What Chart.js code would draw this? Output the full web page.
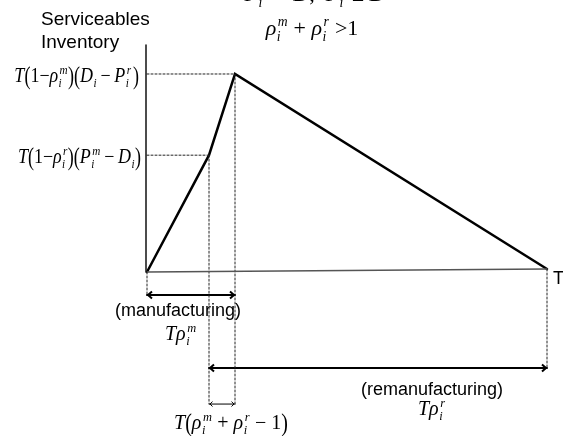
<!DOCTYPE html>
<html>
<head>
<meta charset="utf-8">
<script src="https://cdn.jsdelivr.net/npm/chart.js@4.4.1/dist/chart.umd.min.js"></script>
<style>
  html, body { margin: 0; padding: 0; background: #fff; }
</style>
</head>
<body>
<canvas id="inv" width="563" height="436"></canvas>
<script>
// time in units where T = 100, stock in units where the peak = 100
const inventoryTime  = [0, 15.5, 22, 100];
const inventoryLevel = [0, 59, 100, 1.5];
const baseTime  = [0, 100];
const baseLevel = [0, 1.5];
const axisTop = 114.6;

// where the dimension arrows sit (stock units, below zero)
const manufArrowAt = -11.6;
const remanArrowAt = -48.5;
const overlapArrowAt = -66.7;

const SERIF = '"Liberation Serif", "Times New Roman", serif';
const SANS = '"Liberation Sans", Arial, sans-serif';

// math text pieces: italic with optional sub/sup, roman, tall parens
function it(t, sub, sup) { return { t: t, i: true, sub: sub, sup: sup }; }
function rm(t) { return { t: t }; }
function par(t) { return { t: t, tall: true }; }

const labelPeak  = [it('T'), par('('), rm('1\u2212'), it('\u03c1', 'i', 'm'), par(')'), par('('), it('D', 'i'), rm('\u2009\u2212\u2009'), it('P', 'i', 'r'), rm('\u200a'), par(')')];
const labelKink  = [it('T'), par('('), rm('1\u2212'), it('\u03c1', 'i', 'r'), par(')'), par('('), it('P', 'i', 'm'), rm('\u2009\u2212\u2009'), it('D', 'i'), par(')')];
const labelCond1 = [it('P', 'i', 'm'), rm(' > '), it('D'), rm(',  '), it('P', 'i', 'r'), rm(' \u2265 '), it('D')];
const labelCond2 = [it('\u03c1', 'i', 'm'), rm(' + '), it('\u03c1', 'i', 'r'), rm(' >1')];
const labelManuf = [it('T\u03c1', 'i', 'm')];
const labelReman = [it('T\u03c1', 'i', 'r')];
const labelOverlap = [it('T'), par('('), it('\u03c1', 'i', 'm'), rm(' + '), it('\u03c1', 'i', 'r'), rm(' \u2212 1'), par(')')];

function mathRun(ctx, runs, size, x0, y0, draw) {
  let x = x0;
  for (const r of runs) {
    ctx.font = (r.i ? 'italic ' : '') + size + 'px ' + SERIF;
    const w = ctx.measureText(r.t).width;
    if (draw) {
      if (r.tall) {
        ctx.save();
        ctx.translate(x, y0 - 0.3 * size);
        ctx.scale(1, 1.3);
        ctx.fillText(r.t, 0, 0.3 * size);
        ctx.restore();
      } else {
        ctx.fillText(r.t, x, y0);
      }
    }
    x += w;
    if (r.sub || r.sup) {
      const s = size * 0.62;
      ctx.font = 'italic ' + s + 'px ' + SERIF;
      let sw = 0;
      if (r.sub) {
        sw = Math.max(sw, ctx.measureText(r.sub).width);
        if (draw) ctx.fillText(r.sub, x + 0.5, y0 + 0.26 * size);
      }
      if (r.sup) {
        sw = Math.max(sw, ctx.measureText(r.sup).width + 1);
        if (draw) ctx.fillText(r.sup, x + 1.5, y0 - 0.42 * size);
      }
      x += sw + 1;
    }
  }
  return x - x0;
}

// hs squeezes the run horizontally
function drawMath(ctx, runs, size, x, y, align, hs) {
  hs = hs || 1;
  const w = mathRun(ctx, runs, size, 0, 0, false) * hs;
  const x0 = align === 'right' ? x - w : align === 'center' ? x - w / 2 : x;
  ctx.save();
  ctx.translate(x0, y);
  ctx.scale(hs, 1);
  mathRun(ctx, runs, size, 0, 0, true);
  ctx.restore();
}

function pts(xs, ys) {
  return xs.map(function (v, k) { return { x: v, y: ys[k] }; });
}

const dotted = { borderColor: '#222', borderWidth: 1, borderDash: [2, 2], pointRadius: 0 };
const peakT = inventoryTime[2], kinkT = inventoryTime[1], endT = inventoryTime[3];

const datasets = [
  // y axis
  { data: pts([-0.25, -0.25], [0, axisTop]), borderColor: '#111', borderWidth: 1.5, pointRadius: 0 },
  // time line
  { data: pts(baseTime, baseLevel), borderColor: '#555', borderWidth: 1.5, pointRadius: 0 },
  // guides
  Object.assign({ data: pts([0, peakT], [inventoryLevel[2], inventoryLevel[2]]) }, dotted),
  Object.assign({ data: pts([0, kinkT], [inventoryLevel[1], inventoryLevel[1]]) }, dotted),
  Object.assign({ data: pts([peakT, peakT], [inventoryLevel[2], overlapArrowAt]) }, dotted),
  Object.assign({ data: pts([kinkT, kinkT], [inventoryLevel[1], overlapArrowAt]) }, dotted),
  Object.assign({ data: pts([0, 0], [0, manufArrowAt]) }, dotted),
  Object.assign({ data: pts([endT, endT], [inventoryLevel[3], remanArrowAt]) }, dotted),
  // inventory
  { data: pts(inventoryTime, inventoryLevel), borderColor: '#000', borderWidth: 2.5, pointRadius: 0 },
  // interval arrows
  { data: pts([0, peakT], [manufArrowAt, manufArrowAt]), borderColor: '#000', borderWidth: 2, pointRadius: 0, arrow: 5 },
  { data: pts([kinkT, endT], [remanArrowAt, remanArrowAt]), borderColor: '#000', borderWidth: 2, pointRadius: 0, arrow: 5 },
  { data: pts([kinkT, peakT], [overlapArrowAt, overlapArrowAt]), borderColor: '#000', borderWidth: 1, pointRadius: 0, arrow: 3.5 }
];

const arrowHeads = {
  id: 'arrowHeads',
  afterDatasetsDraw(chart) {
    const ctx = chart.ctx;
    chart.data.datasets.forEach(function (ds, i) {
      if (!ds.arrow) return;
      const pts = chart.getDatasetMeta(i).data;
      const a = pts[0], b = pts[pts.length - 1];
      const s = ds.arrow;
      ctx.save();
      ctx.strokeStyle = ds.borderColor;
      ctx.lineWidth = ds.borderWidth;
      ctx.beginPath();
      ctx.moveTo(a.x + s, a.y - s * 0.7); ctx.lineTo(a.x + 1, a.y); ctx.lineTo(a.x + s, a.y + s * 0.7);
      ctx.moveTo(b.x - s, b.y - s * 0.7); ctx.lineTo(b.x - 1, b.y); ctx.lineTo(b.x - s, b.y + s * 0.7);
      ctx.stroke();
      ctx.restore();
    });
  }
};

const labels = {
  id: 'labels',
  afterDraw(chart) {
    const ctx = chart.ctx;
    const x = chart.scales.x, y = chart.scales.y;
    const x0 = x.getPixelForValue(0);
    ctx.save();
    ctx.fillStyle = '#000';
    ctx.textBaseline = 'alphabetic';

    drawMath(ctx, labelCond1, 22, 315, 1, 'center');
    drawMath(ctx, labelCond2, 22, 312, 35, 'center');

    ctx.font = '19px ' + SANS;
    ctx.fillText('Serviceables', 41, 25);
    ctx.fillText('Inventory', 41, 48);

    drawMath(ctx, labelPeak, 20, x0 - 8, y.getPixelForValue(inventoryLevel[2]) + 8, 'right', 0.9);
    drawMath(ctx, labelKink, 20, x0 - 6, y.getPixelForValue(inventoryLevel[1]) + 8, 'right', 0.9);

    ctx.font = '18px ' + SANS;
    ctx.textAlign = 'center';
    ctx.fillText('(manufacturing)', 178, 316);
    ctx.fillText('(remanufacturing)', 432, 395);
    ctx.textAlign = 'left';
    ctx.fillText('T', x.getPixelForValue(endT) + 6, 284);

    drawMath(ctx, labelManuf, 20, 165, 340, 'left');
    drawMath(ctx, labelReman, 20, 418, 415, 'left');
    drawMath(ctx, labelOverlap, 20, 231, 429, 'center');
    ctx.restore();
  }
};

new Chart(document.getElementById('inv'), {
  type: 'line',
  data: { datasets: datasets },
  options: {
    responsive: false,
    animation: false,
    layout: { padding: 0 },
    elements: { line: { tension: 0, borderCapStyle: 'round' } },
    plugins: { legend: { display: false }, tooltip: { enabled: false } },
    scales: {
      x: { type: 'linear', display: false, min: -36.75, max: 104 },
      y: { type: 'linear', display: false, min: -82.83, max: 137.37 }
    }
  },
  plugins: [arrowHeads, labels]
});
</script>
</body>
</html>
